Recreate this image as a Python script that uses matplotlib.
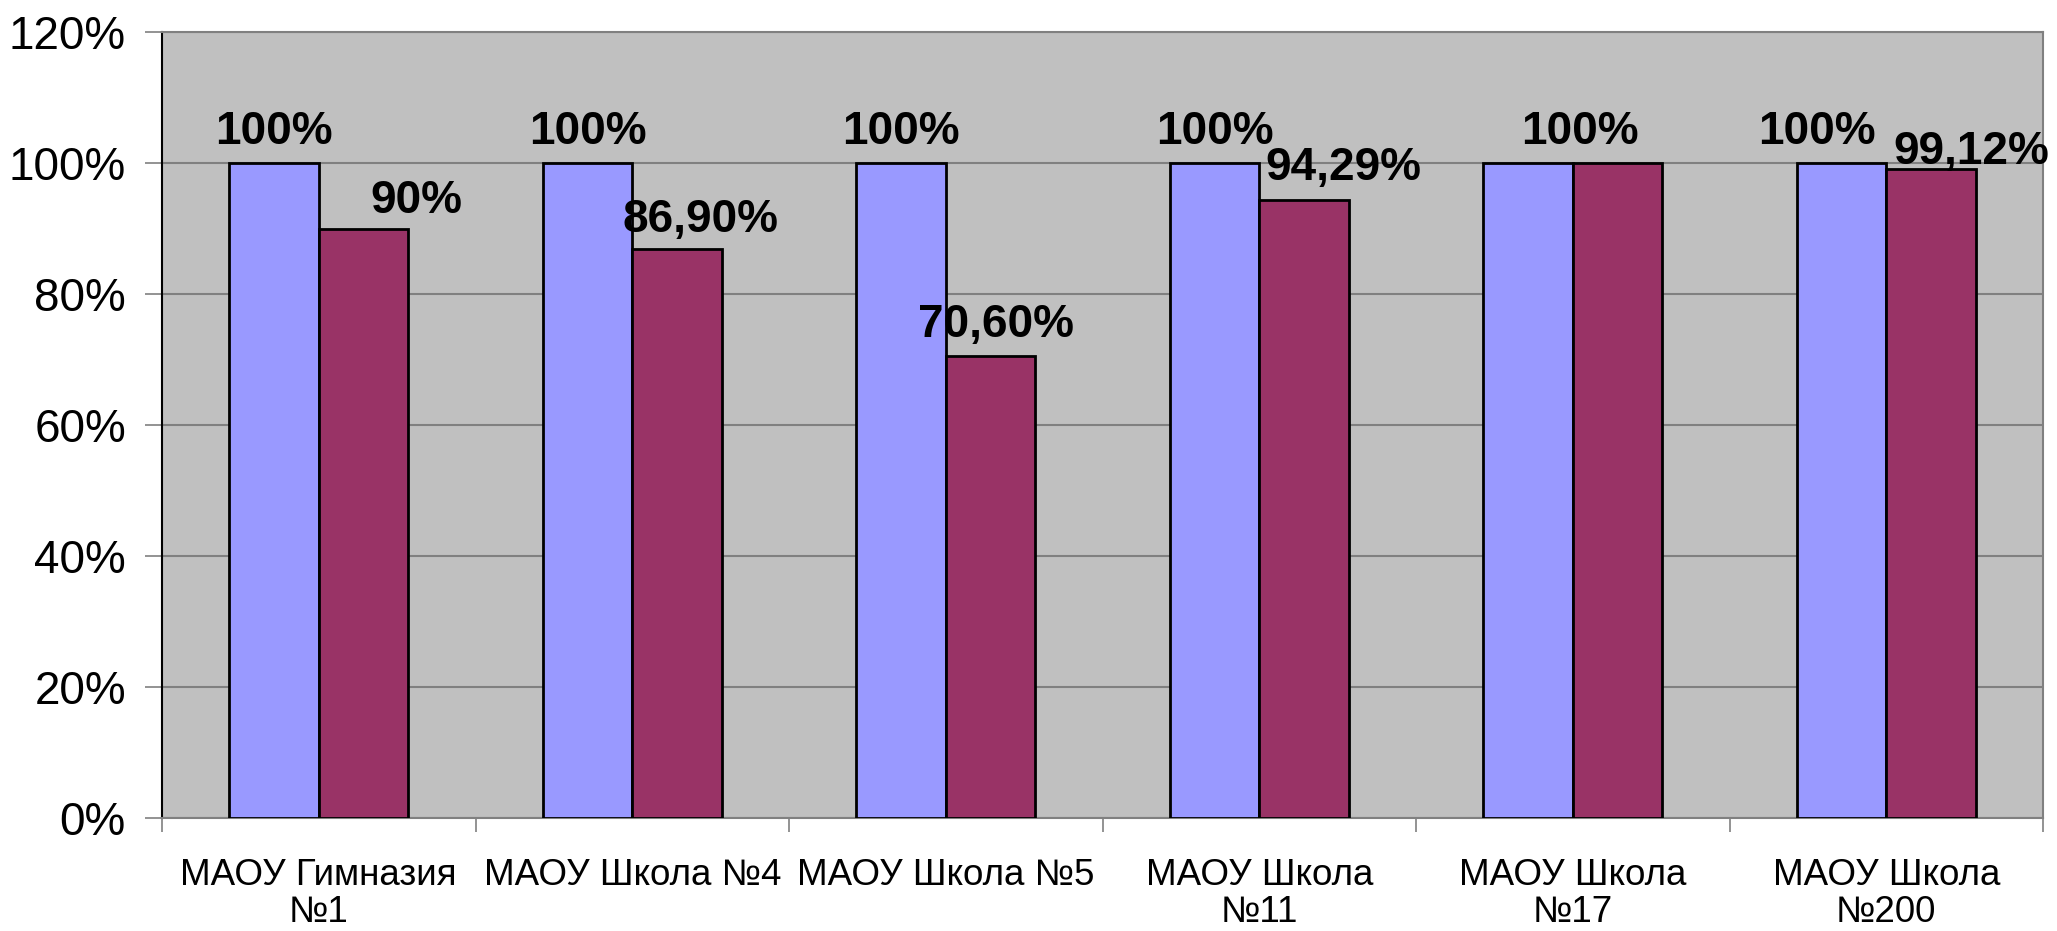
import matplotlib
matplotlib.use("Agg")
import matplotlib.pyplot as plt
import numpy as np

# school names and results
schools = ["МАОУ Гимназия\n№1", "МАОУ Школа №4", "МАОУ Школа №5",
           "МАОУ Школа\n№11", "МАОУ Школа\n№17", "МАОУ Школа\n№200"]
series_a = [1.00, 1.00, 1.00, 1.00, 1.00, 1.00]
series_b = [0.90, 0.869, 0.706, 0.9429, 1.00, 0.9912]
labels_a = ["100%", "100%", "100%", "100%", "100%", "100%"]
labels_b = ["90%", "86,90%", "70,60%", "94,29%", "", "99,12%"]
yticks = [0.0, 0.2, 0.4, 0.6, 0.8, 1.0, 1.2]

# label offsets (pixels) as dragged in the original
off_a = [(0, 19), (0, 19), (0, 19), (0, 19), (52, 19), (-25, 19)]
off_b = [(53, 16), (23, 17), (5, 19), (39, 20), (0, 0), (40, 5)]

plt.rcParams['font.family'] = ['Liberation Sans', 'DejaVu Sans']

fig = plt.figure(figsize=(20.57, 9.31), dpi=100)
ax = fig.add_axes((162 / 2057, 113 / 931, 1881 / 2057, 786 / 931))
ax.set_facecolor("#C0C0C0")

x = np.arange(len(schools))
w = 0.2857
ax.bar(x - w / 2, series_a, w, color="#9999FF", edgecolor="black", linewidth=2, zorder=3)
ax.bar(x + w / 2, series_b, w, color="#993366", edgecolor="black", linewidth=2, zorder=3)

for i in range(len(schools)):
    ax.annotate(labels_a[i], (x[i] - w / 2, series_a[i]), xytext=off_a[i],
                textcoords="offset pixels", ha="center", va="baseline",
                fontsize=33, fontweight="bold", zorder=4)
    if labels_b[i]:
        ax.annotate(labels_b[i], (x[i] + w / 2, series_b[i]), xytext=off_b[i],
                    textcoords="offset pixels", ha="center", va="baseline",
                    fontsize=33, fontweight="bold", zorder=4, annotation_clip=False)

ax.set_xlim(-0.5, len(schools) - 0.5)
ax.set_ylim(0, 1.2)
ax.set_yticks(yticks)
ax.set_yticklabels([f"{int(round(t * 100))}%" for t in yticks], fontsize=33)
ax.yaxis.grid(True, color="#808080", linewidth=1.5, zorder=0)
ax.set_axisbelow(True)

ax.set_xticks(x)
ax.set_xticklabels(schools, fontsize=26.5, linespacing=1.08)
ax.set_xticks(np.arange(len(schools) + 1) - 0.5, minor=True)
ax.tick_params(axis="x", which="major", length=0, pad=29)
ax.tick_params(axis="x", which="minor", length=10, width=1.2, color="#808080")
ax.tick_params(axis="y", length=12, width=1.2, color="#808080", pad=14)

for side in ["top", "right", "bottom"]:
    ax.spines[side].set_color("#808080")
    ax.spines[side].set_linewidth(1.5)
ax.spines["left"].set_color("black")
ax.spines["left"].set_linewidth(1.5)

fig.savefig("out.png", dpi=100)
